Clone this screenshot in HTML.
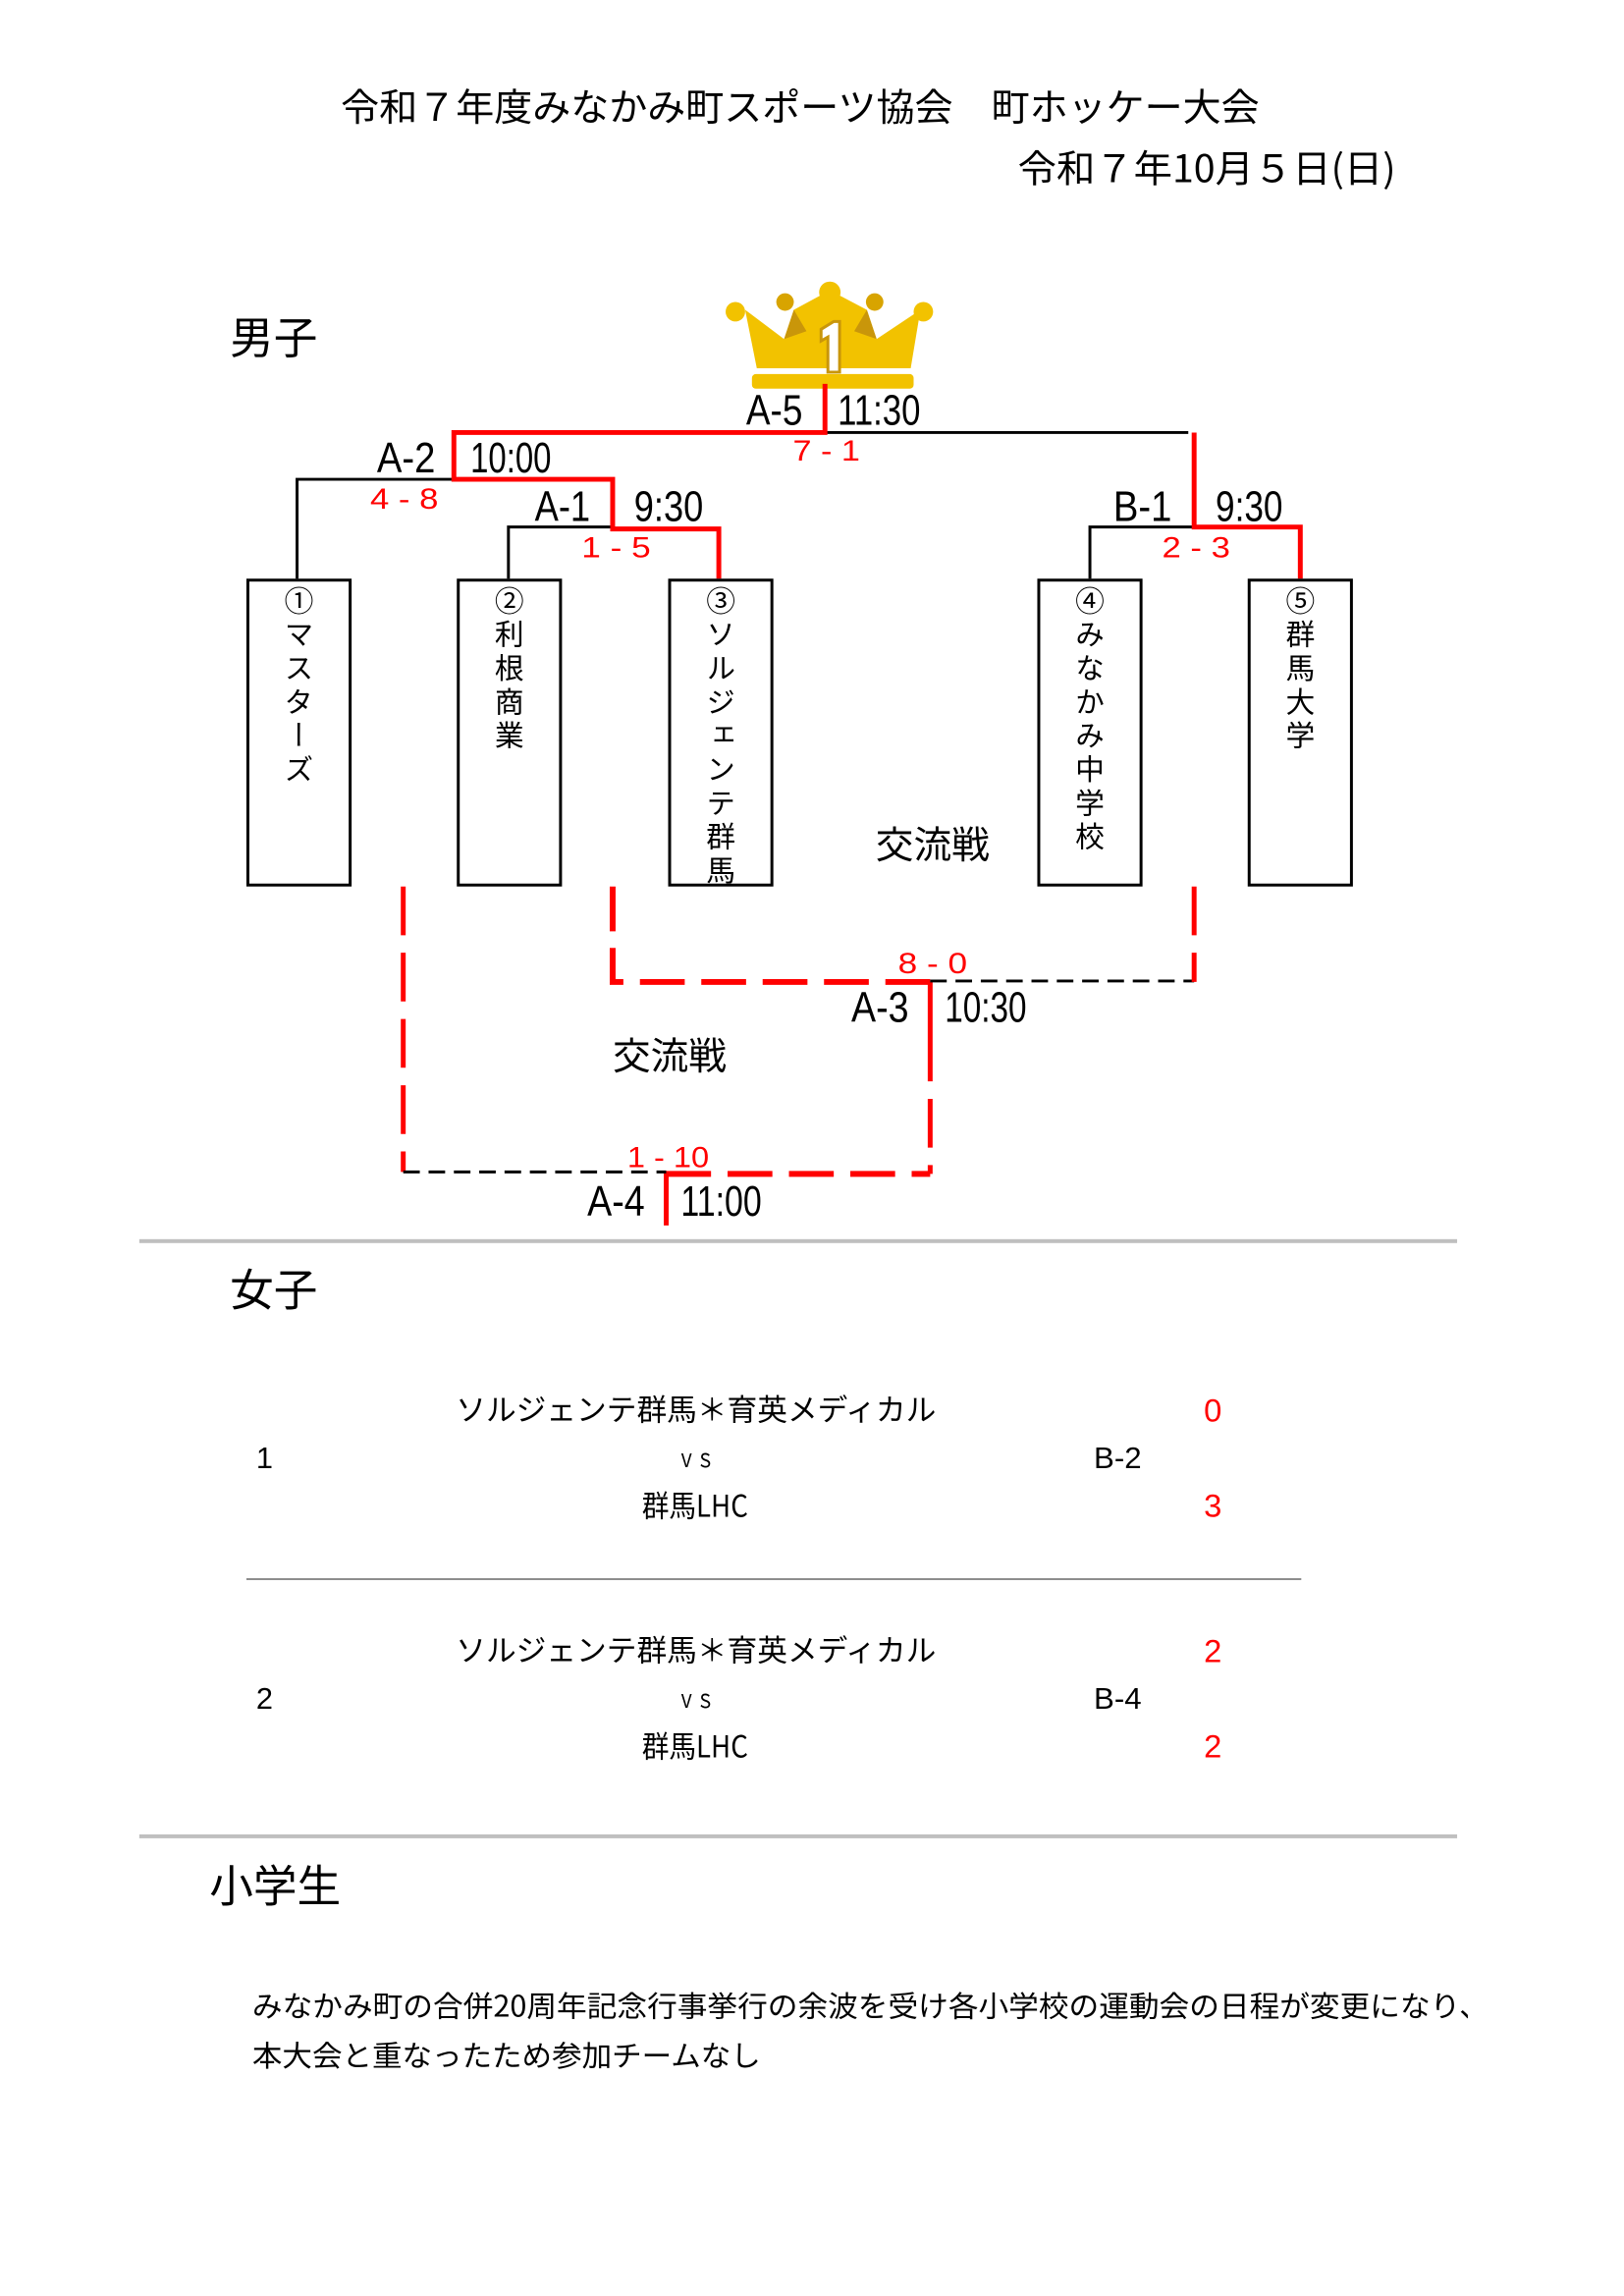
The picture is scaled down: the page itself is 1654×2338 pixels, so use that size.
<!DOCTYPE html>
<html><head><meta charset="utf-8">
<style>
body{margin:0;background:#fff;}
#w{position:relative;width:1654px;height:2338px;overflow:hidden;background:#fff;font-family:"Liberation Sans","Noto Sans CJK JP",sans-serif;}
#s{position:absolute;left:0;top:0;width:1654px;height:2338px;transform:scale(0.992);transform-origin:0 0;}
svg{position:absolute;left:0;top:0;}
.box{position:absolute;top:594px;width:102px;height:310px;border:3px solid #000;overflow:hidden;}
.box div{writing-mode:vertical-rl;font-family:"Noto Sans CJK JP",sans-serif;font-size:30px;line-height:30px;letter-spacing:4.6px;position:absolute;left:36px;top:4px;white-space:nowrap;}
</style></head><body><div id="w"><div id="s">
<svg width="1654" height="2338" viewBox="0 0 1654 2338">
<g font-family="Noto Sans CJK JP, sans-serif" fill="#000">
<text x="350" y="124" font-size="39" textLength="943" lengthAdjust="spacingAndGlyphs">令和７年度みなかみ町スポーツ協会　町ホッケー大会</text>
<text x="1045" y="187" font-size="39" textLength="388" lengthAdjust="spacingAndGlyphs">令和７年10月５日(日)</text>
<text x="236" y="363" font-size="45">男子</text>
<text x="899" y="881" font-size="39">交流戦</text>
<text x="629" y="1098" font-size="39">交流戦</text>
</g>
<g>
<rect x="772" y="384" width="166" height="15" rx="4" fill="#f2c200"/>
<polygon points="765,318 805,348 815,318 852,298 890,318 900,348 945,318 935,378 777,378" fill="#f2c200"/>
<polygon points="805,348 815,318 828,340" fill="#c9960a"/>
<polygon points="900,348 890,318 877,340" fill="#c9960a"/>
<circle cx="755" cy="320" r="10" fill="#f2c200"/>
<circle cx="806" cy="310" r="9" fill="#d8a400"/>
<circle cx="852" cy="300" r="11" fill="#f2c200"/>
<circle cx="898" cy="310" r="9" fill="#d8a400"/>
<circle cx="948" cy="320" r="10" fill="#f2c200"/>
<path d="M843,338 L856,330 L862,330 L862,382 L850,382 L850,346 L843,350 Z" fill="#fff" stroke="#c9960a" stroke-width="3"/>
</g>
<g stroke="#000" stroke-width="3" fill="none">
<line x1="847" y1="444" x2="1220" y2="444"/>
<polyline points="305,594 305,492 466,492"/>
<polyline points="522,594 522,541 629,541"/>
<polyline points="1119,594 1119,541 1226,541"/>
</g>
<g stroke="#ff0000" stroke-width="5" fill="none">
<polyline points="847,394 847,444 466,444 466,492 629,492 629,543 738,543 738,594"/>
<polyline points="1226,444 1226,541 1335,541 1335,594"/>
<line x1="955" y1="1008" x2="955" y2="1060"/>
<line x1="684" y1="1203" x2="684" y2="1258"/>
</g>
<g fill="none">
<polyline points="414,910 414,1203" stroke="#ff0000" stroke-width="5" stroke-dasharray="50 18"/>
<line x1="414" y1="1203" x2="684" y2="1203" stroke="#000" stroke-width="3" stroke-dasharray="17 9"/>
<line x1="684" y1="1205" x2="955" y2="1205" stroke="#ff0000" stroke-width="6" stroke-dasharray="46 17"/>
<line x1="955" y1="1060" x2="955" y2="1205" stroke="#ff0000" stroke-width="5" stroke-dasharray="50 18"/>
<polyline points="629,910 629,1008 955,1008" stroke="#ff0000" stroke-width="6" stroke-dasharray="46 17"/>
<line x1="955" y1="1007" x2="1226" y2="1007" stroke="#000" stroke-width="3" stroke-dasharray="17 9"/>
<line x1="1226" y1="910" x2="1226" y2="1008" stroke="#ff0000" stroke-width="5" stroke-dasharray="50 18"/>
</g>
<g font-family="Liberation Sans, sans-serif" font-size="44" fill="#000">
<text x="766" y="436" textLength="58" lengthAdjust="spacingAndGlyphs">A-5</text>
<text x="860" y="436" textLength="85" lengthAdjust="spacingAndGlyphs">11:30</text>
<text x="387" y="485" textLength="60" lengthAdjust="spacingAndGlyphs">A-2</text>
<text x="483" y="485" textLength="83" lengthAdjust="spacingAndGlyphs">10:00</text>
<text x="549" y="535" textLength="57" lengthAdjust="spacingAndGlyphs">A-1</text>
<text x="651" y="535" textLength="71" lengthAdjust="spacingAndGlyphs">9:30</text>
<text x="1143" y="535" textLength="60" lengthAdjust="spacingAndGlyphs">B-1</text>
<text x="1248" y="535" textLength="69" lengthAdjust="spacingAndGlyphs">9:30</text>
<text x="874" y="1049" textLength="59" lengthAdjust="spacingAndGlyphs">A-3</text>
<text x="970" y="1049" textLength="84" lengthAdjust="spacingAndGlyphs">10:30</text>
<text x="603" y="1248" textLength="59" lengthAdjust="spacingAndGlyphs">A-4</text>
<text x="699" y="1248" textLength="83" lengthAdjust="spacingAndGlyphs">11:00</text>
</g>
<g font-family="Liberation Sans, sans-serif" font-size="30" fill="#ff0000">
<text x="814" y="473" textLength="69" lengthAdjust="spacingAndGlyphs">7 - 1</text>
<text x="380" y="522" textLength="70" lengthAdjust="spacingAndGlyphs">4 - 8</text>
<text x="597" y="572" textLength="71" lengthAdjust="spacingAndGlyphs">1 - 5</text>
<text x="1193" y="572" textLength="70" lengthAdjust="spacingAndGlyphs">2 - 3</text>
<text x="922" y="999" textLength="71" lengthAdjust="spacingAndGlyphs">8 - 0</text>
<text x="644" y="1198" textLength="84" lengthAdjust="spacingAndGlyphs">1 - 10</text>
</g>
<rect x="143" y="1272" width="1353" height="4" fill="#bfbfbf"/>
<rect x="253" y="1620" width="1083" height="2" fill="#8c8c8c"/>
<rect x="143" y="1883" width="1353" height="4" fill="#bfbfbf"/>
<g font-family="Liberation Sans, Noto Sans CJK JP, sans-serif" fill="#000">
<text x="236" y="1340" font-size="45" font-family="Noto Sans CJK JP, sans-serif">女子</text>
<text x="468" y="1458" font-size="31" textLength="493" lengthAdjust="spacingAndGlyphs" font-family="Noto Sans CJK JP, sans-serif">ソルジェンテ群馬＊育英メディカル</text>
<text x="695" y="1506" font-size="26" textLength="39" lengthAdjust="spacingAndGlyphs" font-family="Noto Sans CJK JP, sans-serif">ｖｓ</text>
<text x="659" y="1557" font-size="31" textLength="109" lengthAdjust="spacingAndGlyphs" font-family="Noto Sans CJK JP, sans-serif">群馬LHC</text>
<text x="263" y="1507" font-size="31">1</text>
<text x="1123" y="1507" font-size="31" textLength="49" lengthAdjust="spacingAndGlyphs">B-2</text>
<text x="1236" y="1459" font-size="33" fill="#ff0000">0</text>
<text x="1236" y="1557" font-size="33" fill="#ff0000">3</text>
<text x="468" y="1705" font-size="31" textLength="493" lengthAdjust="spacingAndGlyphs" font-family="Noto Sans CJK JP, sans-serif">ソルジェンテ群馬＊育英メディカル</text>
<text x="695" y="1753" font-size="26" textLength="39" lengthAdjust="spacingAndGlyphs" font-family="Noto Sans CJK JP, sans-serif">ｖｓ</text>
<text x="659" y="1804" font-size="31" textLength="109" lengthAdjust="spacingAndGlyphs" font-family="Noto Sans CJK JP, sans-serif">群馬LHC</text>
<text x="263" y="1754" font-size="31">2</text>
<text x="1123" y="1754" font-size="31" textLength="49" lengthAdjust="spacingAndGlyphs">B-4</text>
<text x="1236" y="1706" font-size="33" fill="#ff0000">2</text>
<text x="1236" y="1804" font-size="33" fill="#ff0000">2</text>
<text x="215" y="1952" font-size="45" font-family="Noto Sans CJK JP, sans-serif">小学生</text>
<text x="259" y="2070" font-size="30" textLength="1270" lengthAdjust="spacingAndGlyphs" font-family="Noto Sans CJK JP, sans-serif">みなかみ町の合併20周年記念行事挙行の余波を受け各小学校の運動会の日程が変更になり、</text>
<text x="259" y="2121" font-size="30" textLength="522" lengthAdjust="spacingAndGlyphs" font-family="Noto Sans CJK JP, sans-serif">本大会と重なったため参加チームなし</text>
</g>
<rect x="1507" y="2030" width="160" height="60" fill="#fff"/>
</svg>
<div class="box" style="left:253px"><div>①マスターズ</div></div>
<div class="box" style="left:469px"><div>②利根商業</div></div>
<div class="box" style="left:686px"><div>③ソルジェンテ群馬</div></div>
<div class="box" style="left:1065px"><div>④みなかみ中学校</div></div>
<div class="box" style="left:1281px"><div>⑤群馬大学</div></div>
</div></div></body></html>
